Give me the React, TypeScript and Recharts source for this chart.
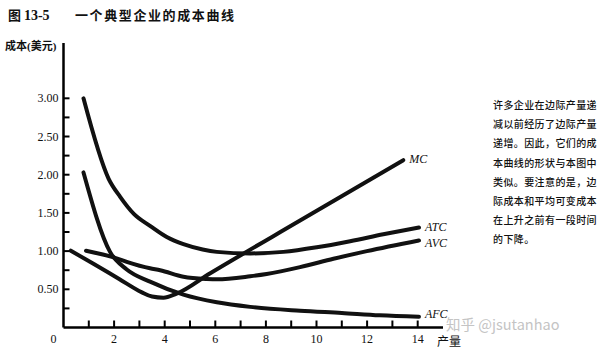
import { LineChart, Line, XAxis, YAxis } from "recharts"

// quantity / cost points
const mcQ = [0.29, 1.2, 2.2, 3.1, 3.5, 3.95, 4.45, 5.8, 9.35, 13.43]
const mcC = [1.005, 0.83, 0.635, 0.46, 0.405, 0.39, 0.44, 0.71, 1.4, 2.19]

const atcQ = [0.79, 1.78, 2.24, 2.8, 3.42, 4.1, 4.74, 5.5, 6.06, 7.38, 8.69, 10.01, 11.33, 12.64, 14.05]
const atcC = [3.0, 1.95, 1.71, 1.48, 1.33, 1.18, 1.09, 1.02, 0.99, 0.97, 0.99, 1.05, 1.13, 1.22, 1.31]

const avcQ = [0.89, 2.1, 2.5, 3.42, 3.82, 4.74, 5.66, 6.06, 7.38, 8.03, 9.35, 10.67, 11.99, 14.05]
const avcC = [1.005, 0.905, 0.86, 0.775, 0.75, 0.665, 0.635, 0.63, 0.67, 0.7, 0.79, 0.9, 1.0, 1.14]

const afcQ = [0.79, 1.84, 2.5, 3.42, 4.74, 6.06, 7.38, 9.35, 11.0, 12.5, 14.05]
const afcC = [2.03, 0.99, 0.76, 0.6, 0.43, 0.33, 0.27, 0.22, 0.19, 0.16, 0.14]

const xTicks = [0, 1, 2, 3, 4, 5, 6, 7, 8, 9, 10, 11, 12, 13, 14]
const yTicks = [0.25, 0.5, 0.75, 1, 1.25, 1.5, 1.75, 2, 2.25, 2.5, 2.75, 3]

const noteLines = [
  "许多企业在边际产量递",
  "减以前经历了边际产量",
  "递增。因此，它们的成",
  "本曲线的形状与本图中",
  "类似。要注意的是，边",
  "际成本和平均可变成本",
  "在上升之前有一段时间",
  "的下降。"
]

const toRows = (q: number[], c: number[]) => q.map((v, i) => ({ q: v, c: c[i] }))

const series = [
  { name: "MC", data: toRows(mcQ, mcC), dx: 6, dy: 3 },
  { name: "ATC", data: toRows(atcQ, atcC), dx: 6, dy: 4 },
  { name: "AVC", data: toRows(avcQ, avcC), dx: 6, dy: 7 },
  { name: "AFC", data: toRows(afcQ, afcC), dx: 6, dy: 1 }
]

const serif = "'Liberation Serif', 'Noto Sans CJK SC', serif"
const cjk = "'Noto Sans CJK SC', sans-serif"

const XTick = ({ x, y, payload }: any) => {
  const v = payload.value
  return (
    <g>
      {v !== 0 && <line x1={x} x2={x} y1={y} y2={y - 7} stroke="#000" strokeWidth={2} />}
      {v % 2 === 0 && (
        <text x={v === 0 ? x - 10 : x} y={y + 15.5} textAnchor="middle" fontFamily={serif} fontSize={12} fill="#111">
          {v}
        </text>
      )}
    </g>
  )
}

const YTick = ({ x, y, payload }: any) => {
  const v = payload.value
  const major = Math.abs(v * 2 - Math.round(v * 2)) < 1e-6
  return (
    <g>
      <line x1={x} x2={x + 6} y1={y} y2={y} stroke="#000" strokeWidth={2} />
      {major && (
        <text x={x - 5} y={y + 4} textAnchor="end" fontFamily={serif} fontSize={12} fill="#111">
          {v.toFixed(2)}
        </text>
      )}
    </g>
  )
}

const endLabel = (name: string, last: number, dx: number, dy: number) => (p: any) => {
  if (p.index !== last) return null
  return (
    <text x={p.x + dx} y={p.y + dy} fontFamily={serif} fontStyle="italic" fontSize={12} fill="#111">
      {name}
    </text>
  )
}

export default function App() {
  return (
    <div style={{ position: "absolute", left: 0, top: 0, width: 600, height: 351, background: "#fff", overflow: "hidden" }}>

      <div style={{ position: "absolute", left: 8, top: 7, lineHeight: "16px", fontSize: 13, fontWeight: "bold", color: "#111" }}>
        <span style={{ fontFamily: cjk }}>图 </span>
        <span style={{ fontFamily: serif, fontSize: 14 }}>13-5</span>
      </div>

      <div style={{ position: "absolute", left: 75, top: 7, lineHeight: "16px", fontSize: 13, fontWeight: "bold", letterSpacing: 1.6, fontFamily: cjk, color: "#111" }}>
        一个典型企业的成本曲线
      </div>

      <div style={{ position: "absolute", left: 5, top: 39, lineHeight: "14px", fontSize: 11, fontWeight: "bold", fontFamily: serif, color: "#111" }}>
        成本(美元)
      </div>

      <LineChart width={600} height={351} margin={{ top: 43, right: 157, bottom: 22.5, left: 62.5 }}>
        <XAxis
          type="number"
          dataKey="q"
          domain={[0, 15]}
          ticks={xTicks}
          interval={0}
          height={1}
          tickLine={false}
          tickSize={0}
          tickMargin={0}
          tick={<XTick />}
          axisLine={{ stroke: "#000", strokeWidth: 2.5 }}
          allowDataOverflow
        />
        <YAxis
          type="number"
          domain={[0, 3.724]}
          ticks={yTicks}
          interval={0}
          width={1}
          tickLine={false}
          tickSize={0}
          tickMargin={0}
          tick={<YTick />}
          axisLine={{ stroke: "#000", strokeWidth: 2.5 }}
          allowDataOverflow
        />
        {series.map((s) => (
          <Line
            key={s.name}
            data={s.data}
            dataKey="c"
            type="monotone"
            stroke="#111"
            strokeWidth={4}
            strokeLinecap="round"
            dot={false}
            isAnimationActive={false}
            label={endLabel(s.name, s.data.length - 1, s.dx, s.dy)}
          />
        ))}
      </LineChart>

      <div style={{ position: "absolute", left: 437, top: 334, lineHeight: "14px", fontSize: 12, fontFamily: cjk, color: "#111" }}>
        产量
      </div>

      <div style={{ position: "absolute", left: 446, top: 315, lineHeight: "18px", fontSize: 14.5, fontFamily: cjk, color: "#c4c4c4" }}>
        知乎 @jsutanhao
      </div>

      {noteLines.map((t, i) => (
        <div
          key={i}
          style={{
            position: "absolute",
            left: 493,
            top: 98 + i * 19.2,
            lineHeight: "14px",
            fontSize: 10,
            letterSpacing: 0.4,
            fontWeight: 500,
            fontFamily: cjk,
            color: "#111",
            whiteSpace: "nowrap"
          }}
        >
          {t}
        </div>
      ))}
    </div>
  )
}
